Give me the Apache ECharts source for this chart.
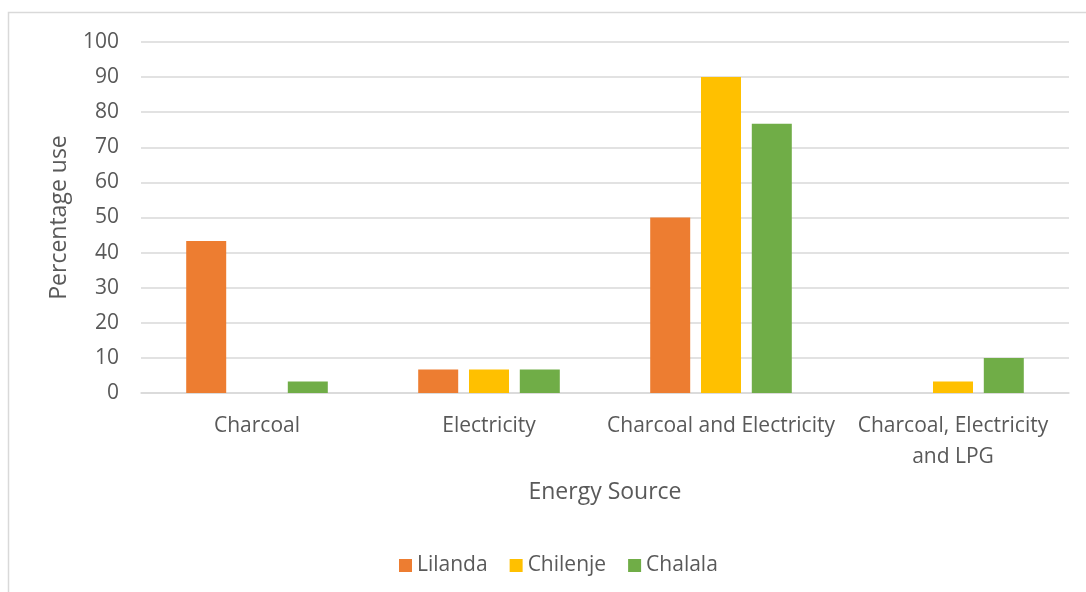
<!DOCTYPE html>
<html>
<head>
<meta charset="utf-8">
<script src="https://cdn.jsdelivr.net/npm/echarts@6/dist/echarts.min.js"></script>
<style>
  html, body { margin: 0; padding: 0; background: #fff; }
  #chart { width: 1086px; height: 592px; }
</style>
</head>
<body>
<div id="chart"></div>
<script>
// Energy sources used per area (percentage of households)
const categories = ['Charcoal', 'Electricity', 'Charcoal and Electricity', 'Charcoal, Electricity\nand LPG'];
const lilanda  = [43.3, 6.7, 50.0, 0];
const chilenje = [0, 6.7, 90.0, 3.3];
const chalala  = [3.3, 6.7, 76.7, 10.0];
const yTicks = { min: 0, max: 100, interval: 10 };

const textColor = '#595959';
const fontFamily = '"Open Sans", "Noto Sans", sans-serif';

const chart = echarts.init(document.getElementById('chart'), null, { renderer: 'canvas' });

function barSeries(name, data, color) {
  return {
    name: name,
    type: 'bar',
    data: data,
    barWidth: 40,
    barGap: '27%',
    itemStyle: { color: color },
    emphasis: { disabled: true }
  };
}

chart.setOption({
  animation: false,
  backgroundColor: '#fff',
  textStyle: { fontFamily: fontFamily },
  graphic: [{
    type: 'rect',
    shape: { x: 8.5, y: 12.5, width: 1090, height: 600 },
    style: { fill: 'none', stroke: '#D9D9D9', lineWidth: 1.5 },
    silent: true
  }],
  grid: { left: 141, right: 17, top: 42, bottom: 199 },
  legend: {
    bottom: 11,
    left: 394,
    itemWidth: 13,
    itemHeight: 13,
    itemGap: 22,
    icon: 'rect',
    textStyle: { color: textColor, fontSize: 21, fontFamily: fontFamily },
    data: ['Lilanda', 'Chilenje', 'Chalala']
  },
  xAxis: {
    type: 'category',
    data: categories,
    name: 'Energy Source',
    nameLocation: 'middle',
    nameGap: 88,
    nameTextStyle: { color: textColor, fontSize: 23, fontFamily: fontFamily },
    axisLine: { show: true, lineStyle: { color: '#D9D9D9', width: 1.5 } },
    axisTick: { show: false },
    axisLabel: {
      color: textColor, fontSize: 21, fontFamily: fontFamily,
      margin: 18, lineHeight: 31, interval: 0
    }
  },
  yAxis: {
    type: 'value',
    min: yTicks.min,
    max: yTicks.max,
    interval: yTicks.interval,
    name: 'Percentage use',
    nameLocation: 'middle',
    nameGap: 70,
    nameTextStyle: { color: textColor, fontSize: 23, fontFamily: fontFamily },
    axisLine: { show: false },
    axisTick: { show: false },
    axisLabel: { color: textColor, fontSize: 21, fontFamily: fontFamily, margin: 22 },
    splitLine: { lineStyle: { color: '#D9D9D9', width: 1.5 } }
  },
  series: [
    barSeries('Lilanda', lilanda, '#ED7D31'),
    barSeries('Chilenje', chilenje, '#FFC000'),
    barSeries('Chalala', chalala, '#70AD47')
  ]
});
</script>
</body>
</html>
